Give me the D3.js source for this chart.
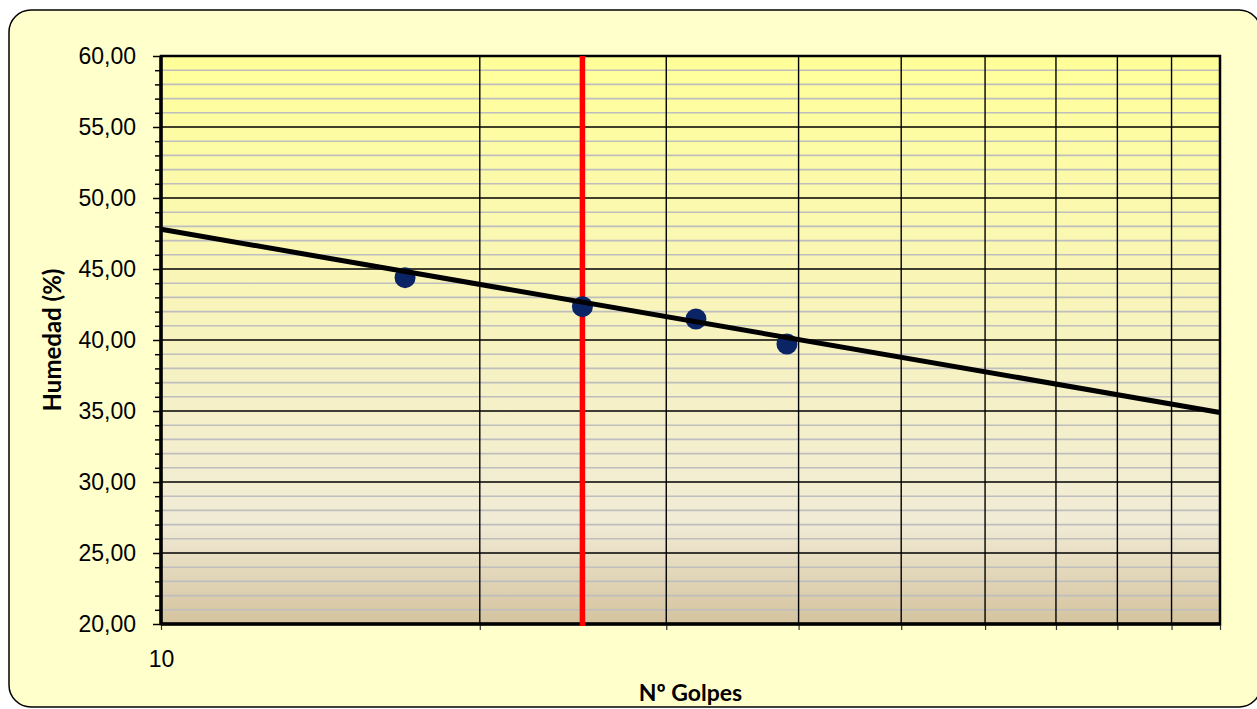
<!DOCTYPE html>
<html>
<head>
<meta charset="utf-8">
<script src="https://cdn.jsdelivr.net/npm/d3@7"></script>
<style>
  body { margin: 0; background: #fff; }
  svg { display: block; font-family: Lato, "Open Sans", sans-serif; }
</style>
</head>
<body>
<svg width="1257" height="709"></svg>
<script>
// data
const golpes = [17, 25, 32, 39];
const humedad = [44.39, 42.35, 41.48, 39.72];
const trendGolpes = [10, 100];
const trendHumedad = [47.8, 34.9];
const limiteGolpes = 25;
const yMajor = [20, 25, 30, 35, 40, 45, 50, 55, 60];
const xMajor = [10, 20, 30, 40, 50, 60, 70, 80, 90, 100];

const svg = d3.select('svg');
const width = +svg.attr('width');
const height = +svg.attr('height');

const margin = { top: 56, right: 37, bottom: 85, left: 161 };
const innerWidth = width - margin.left - margin.right;
const innerHeight = height - margin.top - margin.bottom;

const locale = d3.formatLocale({ decimal: ',', thousands: '.', grouping: [3], currency: ['', ''] });
const fmt = locale.format('.2f');

// outer frame
svg.append('rect')
  .attr('x', 9).attr('y', 10)
  .attr('width', 1252).attr('height', 697)
  .attr('rx', 22).attr('ry', 22)
  .attr('fill', '#FFFFCC')
  .attr('stroke', '#000').attr('stroke-width', 1.5);

const defs = svg.append('defs');
const grad = defs.append('linearGradient')
  .attr('id', 'bg').attr('x1', 0).attr('y1', 0).attr('x2', 0).attr('y2', 1);
grad.append('stop').attr('offset', '0%').attr('stop-color', '#FFFF99');
grad.append('stop').attr('offset', '45%').attr('stop-color', '#F8F4BC');
grad.append('stop').attr('offset', '82%').attr('stop-color', '#F1EBD6');
grad.append('stop').attr('offset', '100%').attr('stop-color', '#D4C39E');

const xScale = d3.scaleLog().domain([10, 100]).range([0, innerWidth]);
const yScale = d3.scaleLinear().domain([20, 60]).range([innerHeight, 0]);

const g = svg.append('g')
  .attr('transform', `translate(${margin.left}, ${margin.top})`);

g.append('rect')
  .attr('width', innerWidth).attr('height', innerHeight)
  .attr('fill', 'url(#bg)');

// minor horizontal grid
const yMinor = d3.range(20, 61, 1).filter(v => v % 5 !== 0);
g.append('g').selectAll('line').data(yMinor)
  .enter().append('line')
  .attr('x1', 0).attr('x2', innerWidth)
  .attr('y1', d => yScale(d)).attr('y2', d => yScale(d))
  .attr('stroke', '#BEBEBE').attr('stroke-width', 1.6);

// major horizontal grid
g.append('g').selectAll('line').data(yMajor)
  .enter().append('line')
  .attr('x1', 0).attr('x2', innerWidth)
  .attr('y1', d => yScale(d)).attr('y2', d => yScale(d))
  .attr('stroke', '#000').attr('stroke-width', 1.4);

// vertical grid
g.append('g').selectAll('line').data(xMajor)
  .enter().append('line')
  .attr('x1', d => xScale(d)).attr('x2', d => xScale(d))
  .attr('y1', 0).attr('y2', innerHeight)
  .attr('stroke', '#000').attr('stroke-width', 1.4);

// y axis
const yAxis = g.append('g')
  .call(d3.axisLeft(yScale).tickValues(yMajor).tickFormat(fmt).tickSize(8).tickPadding(17));
yAxis.select('.domain').remove();
yAxis.selectAll('.tick line').attr('stroke', '#000').attr('stroke-width', 1.5);
yAxis.selectAll('text').attr('font-size', 23).attr('fill', '#000');

const yMinorAxis = g.append('g')
  .call(d3.axisLeft(yScale).tickValues(yMinor).tickFormat('').tickSize(6));
yMinorAxis.select('.domain').remove();
yMinorAxis.selectAll('.tick line').attr('stroke', '#000').attr('stroke-width', 1.5);
yMinorAxis.selectAll('text').remove();

// x axis, only the first decade is labelled
const xAxis = g.append('g')
  .attr('transform', `translate(0, ${innerHeight})`)
  .call(d3.axisBottom(xScale).tickValues(xMajor)
    .tickFormat(d3.format('d')).tickSize(6).tickPadding(21));
xAxis.select('.domain').remove();
xAxis.selectAll('.tick line').attr('stroke', '#333').attr('stroke-width', 1.2);
xAxis.selectAll('text').filter(d => d !== 10).remove();
xAxis.selectAll('text').attr('font-size', 23).attr('fill', '#000');

// plot border
g.append('rect')
  .attr('width', innerWidth).attr('height', innerHeight)
  .attr('fill', 'none').attr('stroke', '#000').attr('stroke-width', 2.5);
g.append('line')
  .attr('x1', 0).attr('x2', 0).attr('y1', 0).attr('y2', innerHeight)
  .attr('stroke', '#000').attr('stroke-width', 3.5);
g.append('line')
  .attr('x1', 0).attr('x2', innerWidth).attr('y1', innerHeight).attr('y2', innerHeight)
  .attr('stroke', '#000').attr('stroke-width', 3.5);

// limit line at 25 golpes
g.append('line')
  .attr('x1', xScale(limiteGolpes)).attr('x2', xScale(limiteGolpes))
  .attr('y1', 0).attr('y2', innerHeight + 2)
  .attr('stroke', '#FF0000').attr('stroke-width', 5.5);

// points
g.append('g').selectAll('circle').data(golpes)
  .enter().append('circle')
  .attr('cx', d => xScale(d))
  .attr('cy', (d, i) => yScale(humedad[i]))
  .attr('r', 10.5)
  .attr('fill', '#0B2466');

// trend line
const line = d3.line()
  .x(d => xScale(d[0]))
  .y(d => yScale(d[1]));
g.append('path')
  .datum(trendGolpes.map((d, i) => [d, trendHumedad[i]]))
  .attr('d', line)
  .attr('fill', 'none')
  .attr('stroke', '#000')
  .attr('stroke-width', 5);

// axis titles
svg.append('text')
  .attr('x', margin.left + innerWidth / 2).attr('y', 701)
  .attr('text-anchor', 'middle')
  .attr('font-size', 23).attr('font-weight', 'bold')
  .text('Nº Golpes');

svg.append('text')
  .attr('transform', `translate(61, ${margin.top + innerHeight / 2}) rotate(-90)`)
  .attr('text-anchor', 'middle')
  .attr('font-size', 24).attr('font-weight', 'bold')
  .text('Humedad (%)');
</script>
</body>
</html>
